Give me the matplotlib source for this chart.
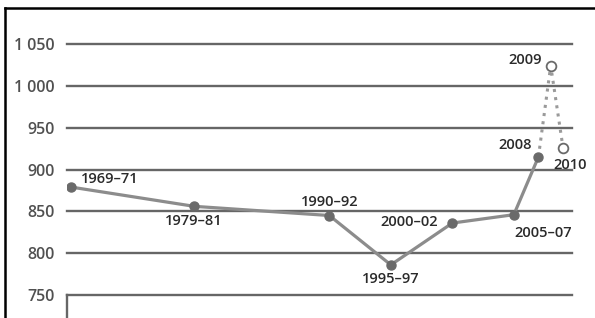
import matplotlib as mpl
mpl.use('Agg')
import matplotlib.pyplot as plt
from matplotlib.lines import Line2D

# data
periods = ['1969–71', '1979–81', '1990–92', '1995–97', '2000–02', '2005–07', '2008']
mid_years = [1970, 1980, 1991, 1996, 2001, 2006, 2008]
values = [879, 856, 845, 786, 836, 846, 915]

proj_labels = ['2009', '2010']
proj_years = [2009, 2010]
proj_values = [1024, 926]

yticks = [750, 800, 850, 900, 950, 1000, 1050]
ytick_labels = ['750', '800', '850', '900', '950', '1 000', '1 050']

plt.rcParams['font.family'] = ['Open Sans', 'DejaVu Sans']

W, H = 595, 318
fig = plt.figure(figsize=(W / 100, H / 100), dpi=100)
ax = fig.add_axes([67 / W, (H - 295) / H, (572 - 67) / W, (295 - 44) / H])

grid_col = '#666666'
line_col = '#8c8c8c'
mark_col = '#6a6a6a'
text_col = '#2a2a2a'

for v in yticks:
    ax.axhline(v, color=grid_col, lw=1.7, zorder=1, clip_on=False)

ax.plot(mid_years, values, color=line_col, lw=2.3, zorder=2)
ax.plot(mid_years, values, 'o', ms=6.5, color=mark_col, zorder=3)

# projected part, dotted
ax.plot([mid_years[-1], proj_years[0], proj_years[1]],
        [values[-1], proj_values[0], proj_values[1]],
        color='#9a9a9a', lw=2.2, ls=(0, (1, 1.7)), dash_capstyle='butt', zorder=2)
ax.plot(proj_years, proj_values, 'o', ms=7, mfc='white', mec='#6a6a6a',
        mew=1.3, zorder=3, clip_on=False)

offsets = [(10, 8, 'left'), (0, -15, 'center'), (0, 14, 'center'),
           (0, -14, 'center'), (-14, 1, 'right'), (29, -18, 'center'),
           (-7, 12, 'right')]
for lab, x, y, (dx, dy, ha) in zip(periods, mid_years, values, offsets):
    ax.annotate(lab, (x, y), xytext=(dx, dy), textcoords='offset pixels',
                ha=ha, va='center', fontsize=10.5, fontweight='semibold', color=text_col)

proj_offsets = [(-9, 6, 'right'), (7, -17, 'center')]
for lab, x, y, (dx, dy, ha) in zip(proj_labels, proj_years, proj_values, proj_offsets):
    ax.annotate(lab, (x, y), xytext=(dx, dy), textcoords='offset pixels',
                ha=ha, va='center', fontsize=10.5, fontweight='semibold', color=text_col)

ax.set_xlim(1969.67, 2010.73)
ax.set_ylim(750, 1050)
ax.set_yticks(yticks)
ax.set_yticklabels(ytick_labels, fontsize=11.5, fontweight='semibold', color='#505050')
ax.tick_params(axis='y', length=0, pad=9)
ax.set_xticks([])
for s in ax.spines.values():
    s.set_visible(False)

# box edge below the chart and outer frame
fig.add_artist(Line2D([67 / W, 67 / W], [0, (H - 295) / H], color=grid_col, lw=1.7))
fig.add_artist(Line2D([5 / W, 1], [(H - 8) / H, (H - 8) / H], color='black', lw=1.8))
fig.add_artist(Line2D([5 / W, 5 / W], [0, (H - 8) / H], color='black', lw=1.8))

plt.savefig('out.png', dpi=100)
